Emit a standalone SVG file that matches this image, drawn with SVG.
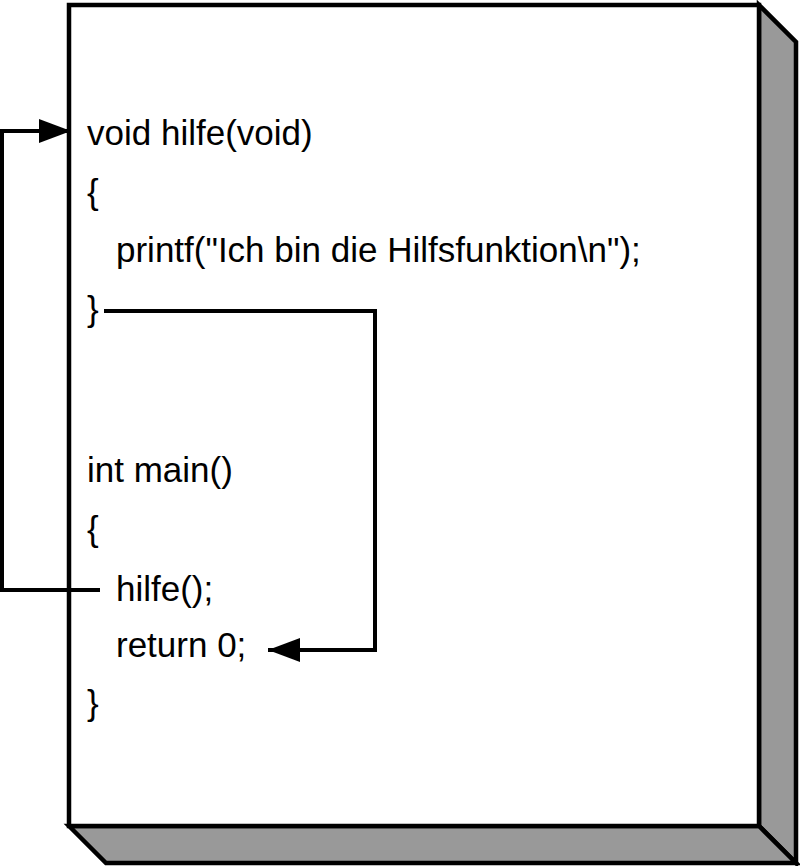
<svg xmlns="http://www.w3.org/2000/svg" width="800" height="866" viewBox="0 0 800 866">
<style>
.face{fill:#999999;stroke:#000;stroke-width:4.5;stroke-linejoin:miter}
.front{fill:#fff;stroke:#000;stroke-width:4.5}
.code{font-family:"Liberation Sans",Arial,Helvetica,sans-serif;font-size:35px;fill:#000}
.conn{fill:none;stroke:#000;stroke-width:4;stroke-linejoin:miter}
</style>
<defs>
<marker id="arr" viewBox="0 0 32 24" refX="32" refY="12" markerWidth="32" markerHeight="24" markerUnits="userSpaceOnUse" orient="auto">
<path d="M0,0 L32,12 L0,24 Z" fill="#000"/>
</marker>
</defs>
<g id="box">
<polygon class="face" points="759,5 796,42 796,863 759,826"/>
<polygon class="face" points="69,826 106,863 796,863 759,826"/>
<rect class="front" x="69" y="5" width="690" height="821"/>
</g>
<g id="code">
<text class="code" x="87" y="145">void hilfe(void)</text>
<text class="code" x="87" y="204">{</text>
<text class="code" x="116" y="262">printf("Ich bin die Hilfsfunktion\n");</text>
<text class="code" x="87" y="321">}</text>
<text class="code" x="87" y="482">int main()</text>
<text class="code" x="87" y="541">{</text>
<text class="code" x="116" y="601">hilfe();</text>
<text class="code" x="116" y="657">return 0;</text>
<text class="code" x="87" y="715">}</text>
</g>
<g id="connectors">
<path class="conn" d="M100,590 H2 V131 H71" marker-end="url(#arr)"/>
<path class="conn" d="M104,311 H375 V650 H268" marker-end="url(#arr)"/>
</g>
</svg>
